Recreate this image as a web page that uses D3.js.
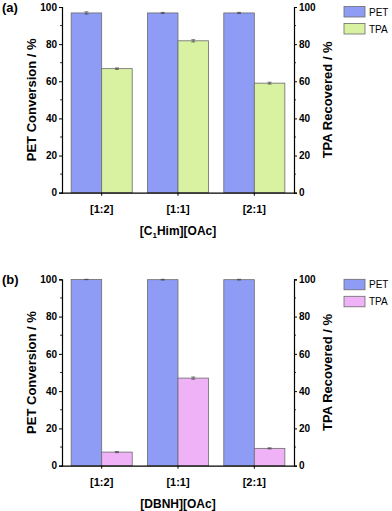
<!DOCTYPE html>
<html>
<head>
<meta charset="utf-8">
<script src="https://cdn.jsdelivr.net/npm/d3@7"></script>
<style>
  body { margin: 0; background: #fff; }
  svg { display: block; font-family: Arial, "Liberation Sans", sans-serif; }
</style>
</head>
<body>
<svg id="chart" width="392" height="511"></svg>
<script>
// categories and values
const ratios = ["[1:2]", "[1:1]", "[2:1]"];
const seriesNames = ["PET", "TPA"];

const petA = [96.8, 96.8, 96.8];
const petErrA = [0.6, 0.3, 0.3];
const tpaA = [66.8, 81.8, 59.0];
const tpaErrA = [0.4, 0.6, 0.5];

const petB = [99.9, 99.8, 99.8];
const petErrB = [0.1, 0.2, 0.2];
const tpaB = [7.3, 47.0, 9.3];
const tpaErrB = [0.3, 0.6, 0.3];

const yTicks = [0, 20, 40, 60, 80, 100];

const fontFamily = "Arial, 'Liberation Sans', sans-serif";
const petColor = "#8f9cf6";

const svg = d3.select("#chart");

function drawPanel(opts) {
  const { top, bottom, letter, pet, petErr, tpa, tpaErr, tpaColor, titleMain, titleSub, titleEnd, legendY } = opts;
  const left = 62, right = 294;

  const x = d3.scaleBand().domain(ratios).range([left, right])
    .paddingInner(0.2).paddingOuter(0.12);
  const xs = d3.scaleBand().domain(seriesNames).range([0, x.bandwidth()]);
  const y = d3.scaleLinear().domain([0, 100]).range([bottom, top]);

  const g = svg.append("g");

  const rows = ratios.map((r, i) => ({
    ratio: r,
    vals: [
      { s: "PET", v: pet[i], e: petErr[i], c: petColor },
      { s: "TPA", v: tpa[i], e: tpaErr[i], c: tpaColor }
    ]
  }));

  const grp = g.selectAll("g.grp").data(rows).join("g")
    .attr("transform", d => `translate(${x(d.ratio)},0)`);

  grp.selectAll("rect").data(d => d.vals).join("rect")
    .attr("x", d => xs(d.s))
    .attr("y", d => y(d.v))
    .attr("width", xs.bandwidth())
    .attr("height", d => y(0) - y(d.v))
    .attr("fill", d => d.c)
    .attr("stroke", "#6b6b6b")
    .attr("stroke-width", 0.8);

  // error bars
  const eb = grp.selectAll("g.err").data(d => d.vals).join("g")
    .attr("stroke", "#444").attr("stroke-width", 0.7);
  eb.append("line")
    .attr("x1", d => xs(d.s) + xs.bandwidth() / 2)
    .attr("x2", d => xs(d.s) + xs.bandwidth() / 2)
    .attr("y1", d => y(d.v + d.e)).attr("y2", d => y(d.v - d.e));
  eb.append("line")
    .attr("x1", d => xs(d.s) + xs.bandwidth() / 2 - 2)
    .attr("x2", d => xs(d.s) + xs.bandwidth() / 2 + 2)
    .attr("y1", d => y(d.v + d.e)).attr("y2", d => y(d.v + d.e));
  eb.append("line")
    .attr("x1", d => xs(d.s) + xs.bandwidth() / 2 - 2)
    .attr("x2", d => xs(d.s) + xs.bandwidth() / 2 + 2)
    .attr("y1", d => y(d.v - d.e)).attr("y2", d => y(d.v - d.e));

  // axes
  const minor = d3.range(10, 100, 20);
  const axL = g.append("g").attr("transform", `translate(${left},0)`)
    .call(d3.axisLeft(y).tickValues(yTicks).tickSize(3).tickPadding(2));
  const axR = g.append("g").attr("transform", `translate(${right},0)`)
    .call(d3.axisRight(y).tickValues(yTicks).tickSize(3).tickPadding(2));
  [axL, axR].forEach(ax => {
    ax.select(".domain").attr("stroke", "#000").attr("stroke-width", 1.2);
    ax.selectAll(".tick line").attr("stroke-width", 1);
    ax.selectAll("text").style("font-size", "10px").style("font-weight", "bold")
      .style("font-family", fontFamily).attr("fill", "#000");
  });
  axL.selectAll(".mt").data(minor).join("line").attr("class", "mt")
    .attr("x1", 0).attr("x2", -2).attr("y1", d => y(d)).attr("y2", d => y(d))
    .attr("stroke", "#000").attr("stroke-width", 0.8);
  axR.selectAll(".mt").data(minor).join("line").attr("class", "mt")
    .attr("x1", 0).attr("x2", 2).attr("y1", d => y(d)).attr("y2", d => y(d))
    .attr("stroke", "#000").attr("stroke-width", 0.8);

  const axB = g.append("g").attr("transform", `translate(0,${bottom})`)
    .call(d3.axisBottom(x).tickSize(3).tickSizeOuter(0).tickPadding(10));
  axB.select(".domain").attr("stroke", "#000").attr("stroke-width", 1.2)
    .attr("d", `M${left - 0.5},0.5H${right + 0.5}`);
  axB.selectAll("text").style("font-size", "11px").style("font-weight", "bold")
    .style("font-family", fontFamily).attr("fill", "#000");

  // axis titles
  g.append("text")
    .attr("transform", `translate(31,${(top + bottom) / 2}) rotate(-90)`)
    .attr("text-anchor", "middle").attr("dy", "0.35em")
    .style("font-size", "13px").style("font-weight", "bold")
    .text("PET Conversion / %");
  g.append("text")
    .attr("transform", `translate(327,${(top + bottom) / 2}) rotate(-90)`)
    .attr("text-anchor", "middle").attr("dy", "0.35em")
    .style("font-size", "13px").style("font-weight", "bold")
    .text("TPA Recovered / %");

  const xt = g.append("text")
    .attr("x", (left + right) / 2).attr("y", bottom + 42)
    .attr("text-anchor", "middle")
    .style("font-size", "12px").style("font-weight", "bold");
  xt.append("tspan").text(titleMain);
  if (titleSub) {
    xt.append("tspan").attr("dy", 3).style("font-size", "8px").text(titleSub);
    xt.append("tspan").attr("dy", -3).text(titleEnd);
  }

  // panel letter
  g.append("text").attr("x", 2).attr("y", top + 5)
    .style("font-size", "13px").style("font-weight", "bold").text(letter);

  // legend
  const leg = g.append("g").attr("transform", `translate(344,${legendY})`);
  const legItems = [{ s: "PET", c: petColor }, { s: "TPA", c: tpaColor }];
  leg.selectAll("rect").data(legItems).join("rect")
    .attr("x", 0).attr("y", (d, i) => i * 17)
    .attr("width", 21).attr("height", 10.5)
    .attr("fill", d => d.c).attr("stroke", "#6b6b6b").attr("stroke-width", 0.8);
  leg.selectAll("text").data(legItems).join("text")
    .attr("x", 25).attr("y", (d, i) => i * 17 + 5.5).attr("dy", "0.35em")
    .style("font-size", "10px").text(d => d.s);
}

drawPanel({
  top: 7, bottom: 192.7, letter: "(a)",
  pet: petA, petErr: petErrA, tpa: tpaA, tpaErr: tpaErrA,
  tpaColor: "#d8f2a2",
  titleMain: "[C", titleSub: "1", titleEnd: "Him][OAc]",
  legendY: 6.5
});

drawPanel({
  top: 279.3, bottom: 465.7, letter: "(b)",
  pet: petB, petErr: petErrB, tpa: tpaB, tpaErr: tpaErrB,
  tpaColor: "#f0b2f6",
  titleMain: "[DBNH][OAc]", titleSub: null, titleEnd: null,
  legendY: 279.3
});
</script>
</body>
</html>
